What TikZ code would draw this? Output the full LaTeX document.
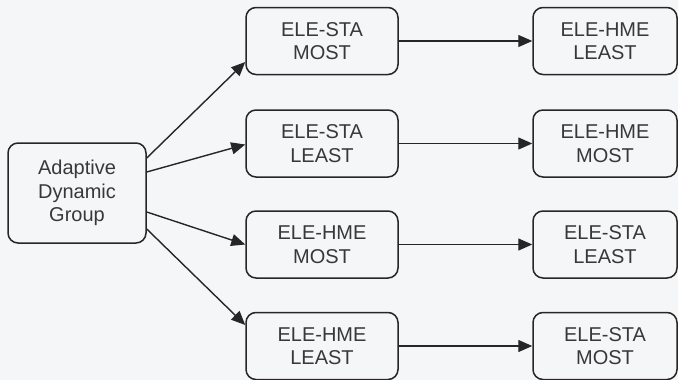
\documentclass[tikz,border=0pt]{standalone}
\usepackage{fontspec}
\setmainfont{Liberation Sans}
\usetikzlibrary{arrows.meta}
\definecolor{bgc}{HTML}{F5F6F8}
\definecolor{ink}{HTML}{262626}
\definecolor{txt}{HTML}{383838}
\begin{document}
\begin{tikzpicture}[x=1pt,y=1pt,
  box/.style={draw=ink, line width=1.5pt, rounded corners=10pt, fill=bgc,
    text=txt, align=center, inner sep=0pt,
    font=\fontsize{20}{23.5}\selectfont},
  leftbox/.style={box, minimum width=138pt, minimum height=100pt},
  midbox/.style={box, minimum width=152pt, minimum height=67pt},
  rightbox/.style={box, minimum width=144pt, minimum height=67pt},
  link/.style={draw=ink, line width=1.4pt,
    -{Triangle[length=14pt,width=12pt]}}]
  % canvas
  \fill[bgc] (0,0) rectangle (678,-380);
  \useasboundingbox (0,0) rectangle (678,-380);

  % source node
  \node[leftbox] (adg) at (77,-193) {Adaptive\\Dynamic\\Group};

  % middle column
  \node[midbox] (m1) at (322,-41)    {ELE-STA\\MOST};
  \node[midbox] (m2) at (322,-143.5) {ELE-STA\\LEAST};
  \node[midbox] (m3) at (322,-244.5) {ELE-HME\\MOST};
  \node[midbox] (m4) at (322,-346)   {ELE-HME\\LEAST};

  % right column
  \node[rightbox] (r1) at (605,-41)    {ELE-HME\\LEAST};
  \node[rightbox] (r2) at (605,-143.5) {ELE-HME\\MOST};
  \node[rightbox] (r3) at (605,-244.5) {ELE-STA\\LEAST};
  \node[rightbox] (r4) at (605,-346)   {ELE-STA\\MOST};

  % fan-out from the source
  \draw[link] ([yshift=35pt]adg.east)  -- ([yshift=-21pt]m1.west);
  \draw[link] ([yshift=21pt]adg.east)  -- ([yshift=-1pt]m2.west);
  \draw[link] ([yshift=-19pt]adg.east) -- ([yshift=0pt]m3.west);
  \draw[link] ([yshift=-36pt]adg.east) -- ([yshift=21pt]m4.west);

  % row connectors
  \draw[link] (m1.east) -- (r1.west);
  \draw[link] (m2.east) -- (r2.west);
  \draw[link] (m3.east) -- (r3.west);
  \draw[link] (m4.east) -- (r4.west);
\end{tikzpicture}
\end{document}
